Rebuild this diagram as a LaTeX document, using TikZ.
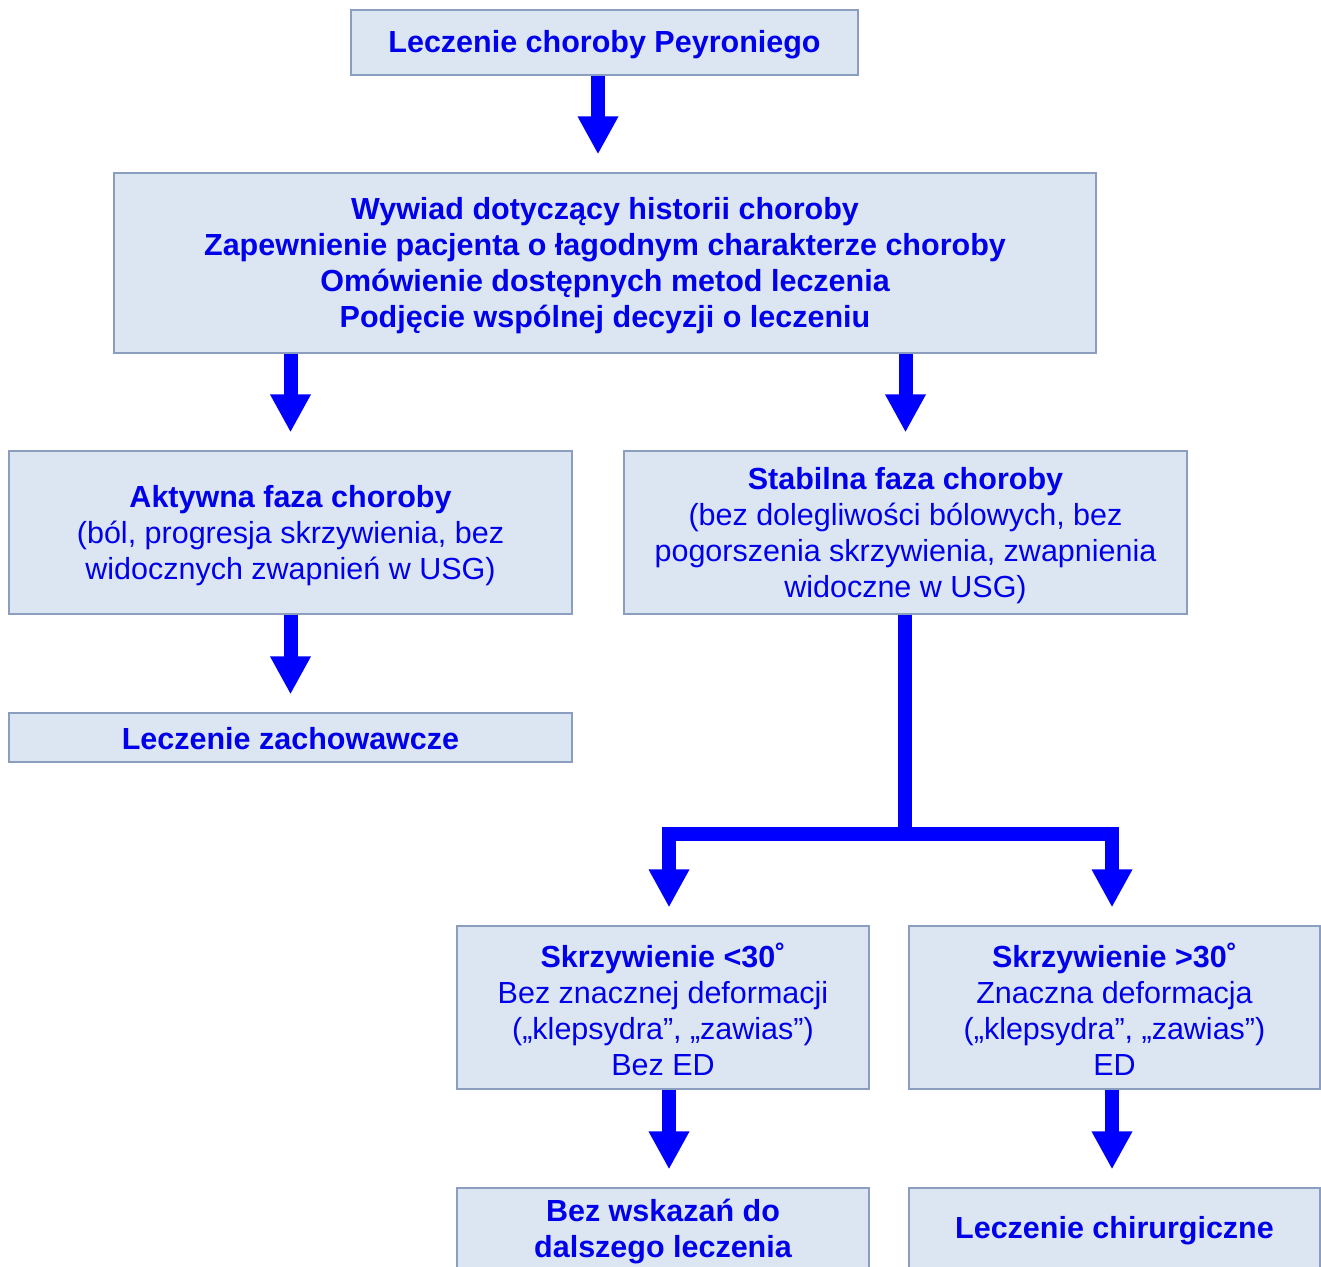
\documentclass[tikz,border=0pt]{standalone}
\usepackage{fontspec}
\setmainfont{Liberation Sans}
\usetikzlibrary{arrows.meta}
\definecolor{boxfill}{RGB}{220,230,242}
\definecolor{boxline}{RGB}{140,158,192}
\definecolor{flowblue}{RGB}{0,0,255}
\definecolor{txtblue}{RGB}{0,0,235}
\tikzset{
  box/.style={draw=boxline, line width=1.2pt, fill=boxfill, inner sep=0pt},
  txt/.style={inner sep=0pt, align=center, text=txtblue,
    font=\fontsize{30.5}{36}\selectfont},
  conn/.style={draw=flowblue, line width=14pt,
    -{Triangle[length=38pt,width=38pt]}, shorten >=18pt},
  stem/.style={draw=flowblue, line width=14pt}
}
\begin{document}
\begin{tikzpicture}[x=1pt,y=-1pt]
\useasboundingbox (0,0) rectangle (1321,1266);
\clip (0,0) rectangle (1321,1266);
\fill[white] (0,0) rectangle (1321,1266);

% boxes
\node[box, minimum width=507pt, minimum height=65pt] (title) at (604.5,42.5) {};
\node[box, minimum width=982pt, minimum height=180pt] (intro) at (605,263) {};
\node[box, minimum width=563pt, minimum height=163pt] (active) at (290.5,532.5) {};
\node[box, minimum width=563pt, minimum height=163pt] (stable) at (905.5,532.5) {};
\node[box, minimum width=563pt, minimum height=49pt] (conserv) at (290.5,737.5) {};
\node[box, minimum width=412pt, minimum height=163pt] (small) at (663,1007.5) {};
\node[box, minimum width=411pt, minimum height=163pt] (large) at (1114.5,1007.5) {};
\node[box, minimum width=412pt, minimum height=84pt] (none) at (663,1230) {};
\node[box, minimum width=411pt, minimum height=84pt] (surgery) at (1114.5,1230) {};

% box texts
\node[txt] (title-t) at ([yshift=-2pt]title.center)
  {\bfseries Leczenie choroby Peyroniego};
\node[txt] (intro-t) at ([yshift=-3pt]intro.center)
  {\bfseries Wywiad dotyczący historii choroby\\
   \bfseries Zapewnienie pacjenta o łagodnym charakterze choroby\\
   \bfseries Omówienie dostępnych metod leczenia\\
   \bfseries Podjęcie wspólnej decyzji o leczeniu};
\node[txt] (active-t) at ([yshift=-3pt]active.center)
  {\textbf{Aktywna faza choroby}\\
   (ból, progresja skrzywienia, bez\\
   widocznych zwapnień w USG)};
\node[txt] (stable-t) at ([yshift=-3pt]stable.center)
  {\textbf{Stabilna faza choroby}\\
   (bez dolegliwości bólowych, bez\\
   pogorszenia skrzywienia, zwapnienia\\
   widoczne w USG)};
\node[txt] (conserv-t) at ([yshift=-1pt]conserv.center)
  {\bfseries Leczenie zachowawcze};
\node[txt] (small-t) at ([yshift=-2pt]small.center)
  {\textbf{Skrzywienie <30˚}\\
   Bez znacznej deformacji\\
   („klepsydra”, „zawias”)\\
   Bez ED};
\node[txt] (large-t) at ([yshift=-2pt]large.center)
  {\textbf{Skrzywienie >30˚}\\
   Znaczna deformacja\\
   („klepsydra”, „zawias”)\\
   ED};
\node[txt, font=\fontsize{30.5}{36}\selectfont\bfseries] (none-t) at ([yshift=-2pt]none.center)
  {Bez wskazań do\\dalszego leczenia};
\node[txt, font=\fontsize{30.5}{36}\selectfont\bfseries] (surgery-t) at ([yshift=-1pt]surgery.center)
  {Leczenie chirurgiczne};

% connectors
\draw[conn] ([xshift=-6.5pt]title.south) -- ([xshift=-6.5pt]title.south |- intro.north);
\draw[conn] (intro.south -| active.north) -- (active.north);
\draw[conn] (intro.south -| stable.north) -- (stable.north);
\draw[conn] (active.south) -- (conserv.north);
\coordinate (split) at (905,834);
\draw[stem] ([xshift=-0.5pt]stable.south) -- (split);
\draw[conn] (split) -| ([xshift=6pt]small.north);
\draw[conn] (split) -| ([xshift=-2.5pt]large.north);
\draw[conn] ([xshift=6pt]small.south) -- ([xshift=6pt]none.north);
\draw[conn] ([xshift=-2.5pt]large.south) -- ([xshift=-2.5pt]surgery.north);
\end{tikzpicture}
\end{document}
